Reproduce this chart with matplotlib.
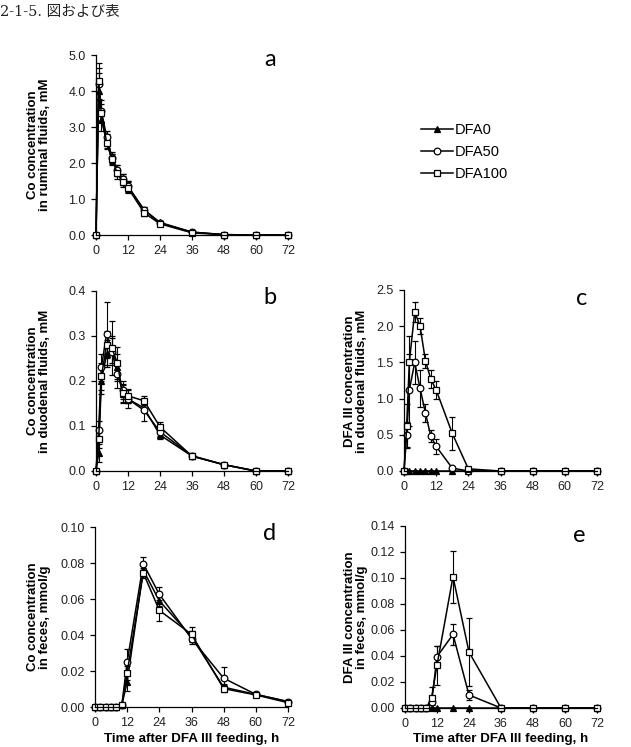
import numpy as np
import matplotlib
matplotlib.use("Agg")
import matplotlib.pyplot as plt
from matplotlib.ticker import FormatStrFormatter

plt.rcParams['font.family'] = ['Liberation Sans', 'DejaVu Sans']

# sampling times (h)
t_fluid = [0, 1, 2, 4, 6, 8, 10, 12, 18, 24, 36, 48, 60, 72]
t_feces = [0, 2, 4, 6, 8, 10, 12, 18, 24, 36, 48, 60, 72]
groups = ["DFA0", "DFA50", "DFA100"]

# a: Co in ruminal fluids, mM
a_dfa0 = [0, 4.0, 3.2, 2.6, 2.1, 1.8, 1.55, 1.35, 0.7, 0.35, 0.08, 0.01, 0, 0]
a_dfa50 = [0, 4.2, 3.45, 2.73, 2.15, 1.8, 1.55, 1.35, 0.7, 0.33, 0.08, 0.01, 0, 0]
a_dfa100 = [0, 4.29, 3.38, 2.56, 2.11, 1.71, 1.48, 1.31, 0.62, 0.31, 0.06, 0.01, 0, 0]
a_err0 = [0, 0.5, 0.3, 0.2, 0.15, 0.15, 0.15, 0.15, 0.08, 0.05, 0.02, 0, 0, 0]
a_err50 = [0, 0.45, 0.3, 0.15, 0.15, 0.15, 0.15, 0.15, 0.08, 0.05, 0.02, 0, 0, 0]
a_err100 = [0, 0.5, 0.25, 0.15, 0.15, 0.15, 0.15, 0.15, 0.08, 0.05, 0.02, 0, 0, 0]

# b: Co in duodenal fluids, mM
b_dfa0 = [0, 0.04, 0.2, 0.26, 0.27, 0.23, 0.17, 0.16, 0.14, 0.08, 0.033, 0.014, 0, 0]
b_dfa50 = [0, 0.09, 0.23, 0.305, 0.265, 0.215, 0.18, 0.16, 0.135, 0.087, 0.034, 0.014, 0, 0]
b_dfa100 = [0, 0.07, 0.21, 0.28, 0.273, 0.24, 0.173, 0.167, 0.156, 0.098, 0.033, 0.014, 0, 0]
b_err0 = [0, 0.02, 0.03, 0.03, 0.03, 0.03, 0.02, 0.01, 0.01, 0.01, 0.005, 0.003, 0, 0]
b_err50 = [0, 0.02, 0.03, 0.07, 0.03, 0.03, 0.02, 0.02, 0.025, 0.01, 0.005, 0.003, 0, 0]
b_err100 = [0, 0.02, 0.03, 0.03, 0.06, 0.035, 0.02, 0.015, 0.01, 0.01, 0.005, 0.003, 0, 0]

# c: DFA III in duodenal fluids, mM
c_dfa0 = [0, 0, 0, 0, 0, 0, 0, 0, 0, 0, 0, 0, 0, 0]
c_dfa50 = [0, 0.5, 1.12, 1.5, 1.14, 0.8, 0.48, 0.34, 0.04, 0, 0, 0, 0, 0]
c_dfa100 = [0, 0.62, 1.51, 2.2, 2.0, 1.52, 1.27, 1.12, 0.52, 0.03, 0, 0, 0, 0]
c_err0 = [0, 0, 0, 0, 0, 0, 0, 0, 0, 0, 0, 0, 0, 0]
c_err50 = [0, 0.17, 0.5, 0.3, 0.25, 0.12, 0.08, 0.1, 0.02, 0, 0, 0, 0, 0]
c_err100 = [0, 0.3, 0.36, 0.14, 0.11, 0.1, 0.12, 0.12, 0.23, 0.02, 0, 0, 0, 0]

# d: Co in feces, mmol/g
d_dfa0 = [0, 0, 0, 0, 0, 0.001, 0.014, 0.076, 0.059, 0.039, 0.011, 0.007, 0.003]
d_dfa50 = [0, 0, 0, 0, 0, 0.001, 0.025, 0.0796, 0.0626, 0.038, 0.016, 0.007, 0.003]
d_dfa100 = [0, 0, 0, 0, 0, 0.001, 0.019, 0.0745, 0.0537, 0.0404, 0.0102, 0.0067, 0.0024]
d_err0 = [0, 0, 0, 0, 0, 0, 0.005, 0.003, 0.003, 0.003, 0.002, 0.001, 0.001]
d_err50 = [0, 0, 0, 0, 0, 0, 0.007, 0.004, 0.004, 0.003, 0.006, 0.001, 0.001]
d_err100 = [0, 0, 0, 0, 0, 0, 0.004, 0.003, 0.006, 0.004, 0.002, 0.001, 0.001]

# e: DFA III in feces, mmol/g
e_dfa0 = [0, 0, 0, 0, 0, 0, 0, 0, 0, 0, 0, 0, 0]
e_dfa50 = [0, 0, 0, 0, 0, 0.005, 0.0395, 0.0566, 0.010, 0, 0, 0, 0]
e_dfa100 = [0, 0, 0, 0, 0, 0.008, 0.033, 0.101, 0.043, 0, 0, 0, 0]
e_err0 = [0, 0, 0, 0, 0, 0, 0, 0, 0, 0, 0, 0, 0]
e_err50 = [0, 0, 0, 0, 0, 0.003, 0.008, 0.008, 0.004, 0, 0, 0, 0]
e_err100 = [0, 0, 0, 0, 0, 0.008, 0.015, 0.02, 0.026, 0, 0, 0, 0]

W, H = 631, 747
fig = plt.figure(figsize=(W / 100, H / 100), dpi=100)


def add_axes(left, right, top, bottom):
    return fig.add_axes([left / W, 1 - bottom / H, (right - left) / W, (bottom - top) / H])


styles = [dict(marker='^', mfc='black', ms=4.2),
          dict(marker='o', mfc='white', ms=4.8),
          dict(marker='s', mfc='white', ms=4.8)]


def panel(ax, t, series, errs, ymax, ystep, fmt, letter, lx, ly):
    for y, e, st in zip(series, errs, styles):
        ax.errorbar(t, y, yerr=e, color='black', lw=1.1, mec='black', mew=0.9,
                    elinewidth=0.8, capsize=2.2, capthick=0.8, clip_on=False, **st)
    ax.set_xlim(0, 72)
    ax.set_ylim(0, ymax)
    ax.set_xticks(np.arange(0, 73, 12))
    ax.set_yticks(np.arange(0, ymax + ystep / 2, ystep))
    ax.yaxis.set_major_formatter(FormatStrFormatter(fmt))
    for s in ['top', 'right']:
        ax.spines[s].set_visible(False)
    for s in ['left', 'bottom']:
        ax.spines[s].set_linewidth(0.9)
    ax.tick_params(direction='out', length=3.5, width=0.9, labelsize=9, pad=4,
                   labelcolor='#222222')
    fig.text(lx / W, 1 - ly / H, letter, fontsize=17, family=['Lato', 'DejaVu Sans'],
             ha='center', va='center')


def ylabel(x, y, text):
    fig.text(x / W, 1 - y / H, text, rotation=90, ha='center', va='center',
             fontsize=9.5, fontweight='bold', linespacing=1.05)


ax_a = add_axes(96, 288, 55, 235)
panel(ax_a, t_fluid, [a_dfa0, a_dfa50, a_dfa100], [a_err0, a_err50, a_err100],
      5.0, 1.0, '%.1f', 'a', 270, 60)
ylabel(39, 145, "Co concentration\nin ruminal fluids, mM")

ax_b = add_axes(96, 288, 291, 471)
panel(ax_b, t_fluid, [b_dfa0, b_dfa50, b_dfa100], [b_err0, b_err50, b_err100],
      0.4, 0.1, '%.1f', 'b', 270, 297)
ylabel(39, 381, "Co concentration\nin duodenal fluids, mM")

ax_c = add_axes(404, 597, 290, 471)
panel(ax_c, t_fluid, [c_dfa0, c_dfa50, c_dfa100], [c_err0, c_err50, c_err100],
      2.5, 0.5, '%.1f', 'c', 582, 298)
ylabel(356, 381, "DFA III concentration\nin duodenal fluids, mM")

ax_d = add_axes(95, 288, 527, 707)
panel(ax_d, t_feces, [d_dfa0, d_dfa50, d_dfa100], [d_err0, d_err50, d_err100],
      0.10, 0.02, '%.2f', 'd', 270, 533)
ylabel(39, 617, "Co concentration\nin feces, mmol/g")

ax_e = add_axes(405, 597, 526, 708)
panel(ax_e, t_feces, [e_dfa0, e_dfa50, e_dfa100], [e_err0, e_err50, e_err100],
      0.14, 0.02, '%.2f', 'e', 579, 535)
ylabel(356, 617, "DFA III concentration\nin feces, mmol/g")

for x in (192, 501):
    fig.text(x / W, 1 - 733 / H, "Time after DFA III feeding, h", ha='center', va='top',
             fontsize=9.6, fontweight='bold')

# legend
handles = [plt.Line2D([], [], color='black', lw=1.1, mec='black', mew=0.9, **st) for st in styles]
fig.legend(handles, groups, loc='center left', bbox_to_anchor=(414 / W, 1 - 152 / H),
           frameon=False, fontsize=10.5, handlelength=2.2, handletextpad=0.1,
           labelspacing=0.55, borderpad=0)

fig.text(0, 1 - 12 / H, "2-1-5. 図および表", ha='left', va='center', fontsize=10.5,
         family=['DejaVu Serif', 'Noto Sans CJK JP'], color='#222222')

fig.savefig("out.png", dpi=100)
